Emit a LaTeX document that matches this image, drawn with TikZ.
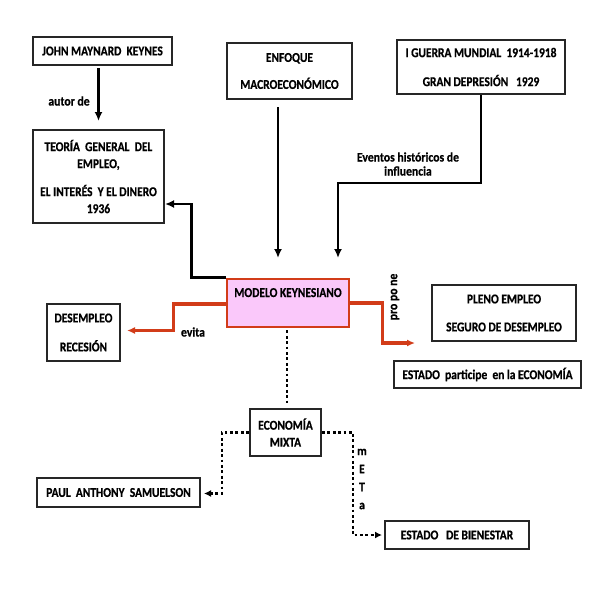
\documentclass[tikz,border=0pt]{standalone}
\usepackage{fontspec}
\setmainfont{Carlito}[FakeStretch=0.85, BoldFeatures={FakeBold=0.6}]
\newfontfamily\labfont{Carlito}[FakeStretch=0.9, BoldFeatures={FakeBold=0.6}]
\usetikzlibrary{arrows.meta,calc}
\definecolor{redline}{RGB}{210,60,25}
\definecolor{pinkfill}{RGB}{250,200,250}
\begin{document}
\begin{tikzpicture}[x=1pt,y=-1pt,
  box/.style={draw=black!85,line width=2pt,inner sep=0pt,align=center,font=\fontsize{13.5}{17}\selectfont\bfseries},
  lab/.style={inner sep=0pt,align=center,font=\labfont\fontsize{13}{14}\selectfont\bfseries},
  arr/.style={line width=2.8pt,-{Latex[length=9pt,width=8pt]}},
  redarr/.style={draw=redline,line width=3.2pt,-{Latex[length=8pt,width=7pt]}},
  dotline/.style={line width=2.8pt,dash pattern=on 2.8pt off 2.6pt},
  dotarr/.style={dotline,-{Latex[length=7pt,width=7pt]}}]
\useasboundingbox[fill=white] (0,0) rectangle (593,595);

\node[box,minimum width=139,minimum height=28] (j) at (102.5,51) {JOHN MAYNARD~ KEYNES};
\node[box,minimum width=131,minimum height=93] (t) at (98.5,176.5) {TEORÍA~ GENERAL~ DEL\\ EMPLEO,\\[11pt] EL INTERÉS~ Y EL DINERO\\ 1936};
\node[box,minimum width=125,minimum height=56] (e) at (289.5,71) {ENFOQUE\\[10pt] MACROECONÓMICO};
\node[box,minimum width=168,minimum height=54] (g) at (481,67) {I GUERRA MUNDIAL~ 1914-1918\\[12pt] GRAN DEPRESIÓN~~ 1929};
\node[box,draw=redline,fill=pinkfill,line width=2.8pt,minimum width=122,text height=15pt,text depth=27pt,inner ysep=3pt] (mk) at (288,303) {MODELO KEYNESIANO};
\node[box,minimum width=73,minimum height=57] (d) at (83.5,332.5) {DESEMPLEO\\[12pt] RECESIÓN};
\node[box,minimum width=144,minimum height=56] (p) at (504,313) {PLENO EMPLEO\\[11pt] SEGURO DE DESEMPLEO};
\node[box,minimum width=187,minimum height=27] (s) at (487.5,374.5) {ESTADO~ participe~ en la ECONOMÍA};
\node[box,minimum width=71,minimum height=47] (eco) at (285.5,432.5) {ECONOMÍA\\ MIXTA};
\node[box,minimum width=163,minimum height=29] (sam) at (118.5,492.5) {PAUL~ ANTHONY~ SAMUELSON};
\node[box,minimum width=144,minimum height=28] (b) at (457,535) {ESTADO~~ DE BIENESTAR};

\coordinate (eend) at (278,258);
\coordinate (gend) at (338,258);
\coordinate (pend) at (415,343);

% connectors
\draw[arr,shorten <=2pt,shorten >=8pt] (t.north |- j.south) -- (t.north);
\draw[arr] (mk.north west) -- ++(-34,0) |- ([yshift=20pt]t.south east);
\draw[arr] (eend |- e.south) ++(0,7) -- (eend);
\draw[arr] (g.south) -- ++(0,88) -| (gend);
\draw[redarr,shorten >=6pt] ([yshift=-1pt]mk.west) -- ++(-52,0) |- ([yshift=2pt]d.east);
\draw[redarr] (mk.east) -- ++(32,0) |- (pend);
\draw[dotline] (mk.south) ++(-1,2) -- ++(0,73);
\draw[dotarr,shorten >=3pt] (eco.west) -- ++(-27,0) |- ([yshift=-1pt]sam.east);
\draw[dotarr,shorten >=2pt] (eco.east) -- ++(31,0) |- (b.west);

% labels
\node[lab] (l1) at (69,101) {autor de};
\node[lab] (l2) at (408,164) {Eventos históricos de\\ influencia};
\node[lab] (l3) at (193,332) {evita};
\node[lab,rotate=90] (l4) at (395,297) {pro po ne};
\node[lab] (m1) at (362,452) {m};
\node[lab] (m2) at (362,469) {E};
\node[lab] (m3) at (362,487) {T};
\node[lab] (m4) at (362,506) {a};
\end{tikzpicture}
\end{document}
